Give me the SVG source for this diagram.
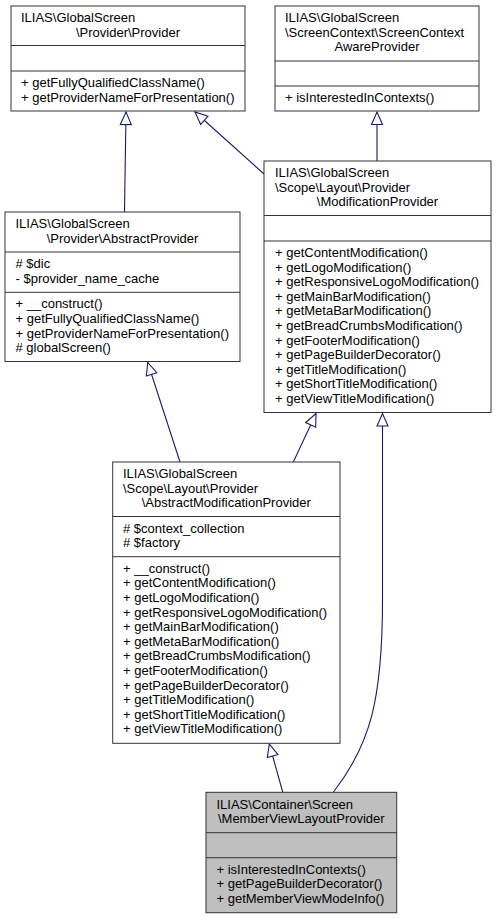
<svg xmlns="http://www.w3.org/2000/svg" width="496" height="919" viewBox="0 0 496 919">
<style>
  .box { fill: #ffffff; stroke: #333333; stroke-width: 1; }
  .main { fill: #bfbfbf; }
  .sep { stroke: #333333; stroke-width: 1; }
  text { font-family: "Liberation Sans", Arial, sans-serif; font-size: 13px; fill: #000000; }
  .c { text-anchor: middle; }
  .edge { fill: none; stroke: #191970; stroke-width: 1.1; marker-end: url(#hollow); }
</style>
<defs>
  <marker id="hollow" markerUnits="userSpaceOnUse" markerWidth="16" markerHeight="14" refX="12.5" refY="5.5" orient="auto" overflow="visible">
    <path d="M0,0 L12.5,5.5 L0,11 Z" fill="#ffffff" stroke="#191970" stroke-width="1.1"/>
  </marker>
</defs>
<rect width="496" height="919" fill="#ffffff"/>

<g id="edges">
  <path class="edge" d="M124.5,212 L126,112"/>
  <path class="edge" d="M264,174 L195,112"/>
  <path class="edge" d="M377,161 L377,112"/>
  <path class="edge" d="M180,462 L147.7,362.5"/>
  <path class="edge" d="M293.3,462 L316,413.5"/>
  <path class="edge" d="M282.7,792 L269.3,744"/>
  <path class="edge" d="M333.5,792 C370,745 382.5,700 382.5,600 L382.5,413.5"/>
</g>

<g id="node-provider">
  <rect class="box" x="11" y="6" width="234" height="105"/>
  <line class="sep" x1="11" y1="45.5" x2="245" y2="45.5"/>
  <line class="sep" x1="11" y1="71" x2="245" y2="71"/>
  <text x="21" y="22">ILIAS\GlobalScreen</text>
  <text class="c" x="128" y="36.6">\Provider\Provider</text>
  <text x="21" y="87">+ getFullyQualifiedClassName()</text>
  <text x="21" y="101.6">+ getProviderNameForPresentation()</text>
</g>

<g id="node-screencontextawareprovider">
  <rect class="box" x="275" y="6" width="204" height="105"/>
  <line class="sep" x1="275" y1="61" x2="479" y2="61"/>
  <line class="sep" x1="275" y1="86" x2="479" y2="86"/>
  <text x="285" y="22">ILIAS\GlobalScreen</text>
  <text x="285" y="36.6">\ScreenContext\ScreenContext</text>
  <text class="c" x="377" y="51.2">AwareProvider</text>
  <text x="285" y="102">+ isInterestedInContexts()</text>
</g>

<g id="node-modificationprovider">
  <rect class="box" x="264" y="161" width="227" height="251.5"/>
  <line class="sep" x1="264" y1="215.5" x2="491" y2="215.5"/>
  <line class="sep" x1="264" y1="241" x2="491" y2="241"/>
  <text x="275" y="177">ILIAS\GlobalScreen</text>
  <text x="275" y="191.6">\Scope\Layout\Provider</text>
  <text class="c" x="377.5" y="206.2">\ModificationProvider</text>
  <text x="275" y="257">+ getContentModification()</text>
  <text x="275" y="271.6">+ getLogoModification()</text>
  <text x="275" y="286.2">+ getResponsiveLogoModification()</text>
  <text x="275" y="300.8">+ getMainBarModification()</text>
  <text x="275" y="315.4">+ getMetaBarModification()</text>
  <text x="275" y="330">+ getBreadCrumbsModification()</text>
  <text x="275" y="344.6">+ getFooterModification()</text>
  <text x="275" y="359.2">+ getPageBuilderDecorator()</text>
  <text x="275" y="373.8">+ getTitleModification()</text>
  <text x="275" y="388.4">+ getShortTitleModification()</text>
  <text x="275" y="403">+ getViewTitleModification()</text>
</g>

<g id="node-abstractprovider">
  <rect class="box" x="5" y="212" width="235" height="149.5"/>
  <line class="sep" x1="5" y1="252" x2="240" y2="252"/>
  <line class="sep" x1="5" y1="292.3" x2="240" y2="292.3"/>
  <text x="15.5" y="228">ILIAS\GlobalScreen</text>
  <text class="c" x="122.5" y="242.6">\Provider\AbstractProvider</text>
  <text x="15.5" y="268">#  $dic</text>
  <text x="15.5" y="282.6">- $provider_name_cache</text>
  <text x="15.5" y="308.3">+ __construct()</text>
  <text x="15.5" y="322.9">+ getFullyQualifiedClassName()</text>
  <text x="15.5" y="337.5">+ getProviderNameForPresentation()</text>
  <text x="15.5" y="352.1"># globalScreen()</text>
</g>

<g id="node-abstractmodificationprovider">
  <rect class="box" x="112.7" y="462" width="227.3" height="281.3"/>
  <line class="sep" x1="112.7" y1="516.5" x2="340" y2="516.5"/>
  <line class="sep" x1="112.7" y1="556.7" x2="340" y2="556.7"/>
  <text x="123" y="478">ILIAS\GlobalScreen</text>
  <text x="123" y="492.6">\Scope\Layout\Provider</text>
  <text class="c" x="226.3" y="507.2">\AbstractModificationProvider</text>
  <text x="123" y="532.5"># $context_collection</text>
  <text x="123" y="547.1"># $factory</text>
  <text x="123" y="572.7">+ __construct()</text>
  <text x="123" y="587.3">+ getContentModification()</text>
  <text x="123" y="601.9">+ getLogoModification()</text>
  <text x="123" y="616.5">+ getResponsiveLogoModification()</text>
  <text x="123" y="631.1">+ getMainBarModification()</text>
  <text x="123" y="645.7">+ getMetaBarModification()</text>
  <text x="123" y="660.3">+ getBreadCrumbsModification()</text>
  <text x="123" y="674.9">+ getFooterModification()</text>
  <text x="123" y="689.5">+ getPageBuilderDecorator()</text>
  <text x="123" y="704.1">+ getTitleModification()</text>
  <text x="123" y="718.7">+ getShortTitleModification()</text>
  <text x="123" y="733.3">+ getViewTitleModification()</text>
</g>

<g id="node-memberviewlayoutprovider">
  <rect class="box main" x="206" y="792.3" width="190.7" height="120.4"/>
  <line class="sep" x1="206" y1="832.7" x2="396.7" y2="832.7"/>
  <line class="sep" x1="206" y1="857.7" x2="396.7" y2="857.7"/>
  <text x="216.5" y="808.5">ILIAS\Container\Screen</text>
  <text class="c" x="301.3" y="823.1">\MemberViewLayoutProvider</text>
  <text x="216.5" y="873.7">+ isInterestedInContexts()</text>
  <text x="216.5" y="888.3">+ getPageBuilderDecorator()</text>
  <text x="216.5" y="902.9">+ getMemberViewModeInfo()</text>
</g>
</svg>
